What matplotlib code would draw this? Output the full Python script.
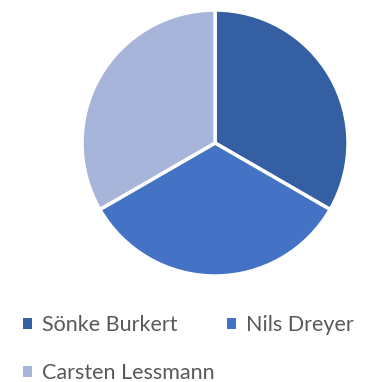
import matplotlib
matplotlib.use("Agg")
import matplotlib.pyplot as plt
from matplotlib.patches import Patch

names = ["Sönke Burkert", "Nils Dreyer", "Carsten Lessmann"]
shares = [1, 1, 1]
colors = ["#355fa3", "#4472c4", "#a7b5da"]

plt.rcParams["font.family"] = ["Lato", "DejaVu Sans"]

fig = plt.figure(figsize=(3.65, 3.82), dpi=100)
ax = fig.add_axes([0.2247, 0.2775, 0.7288, 0.6963])
ax.pie(shares, colors=colors, startangle=90, counterclock=False,
       wedgeprops=dict(edgecolor="white", linewidth=2.5))
ax.set_xlim(-1, 1)
ax.set_ylim(-1, 1)
ax.set_aspect("equal")

# legend fills row by row: Sönke, Nils / Carsten
order = [0, 2, 1]
handles = [Patch(facecolor=colors[i], edgecolor="none") for i in order]
labels = [names[i] for i in order]
leg = fig.legend(handles, labels, ncol=2, loc="center left",
                 bbox_to_anchor=(0.033, 0.086), frameon=False,
                 fontsize=15.5, labelcolor="#595959",
                 handlelength=0.45, handleheight=0.45, handletextpad=0.45,
                 columnspacing=0.55, labelspacing=1.3, borderpad=0)

fig.savefig("out.png", dpi=100)
